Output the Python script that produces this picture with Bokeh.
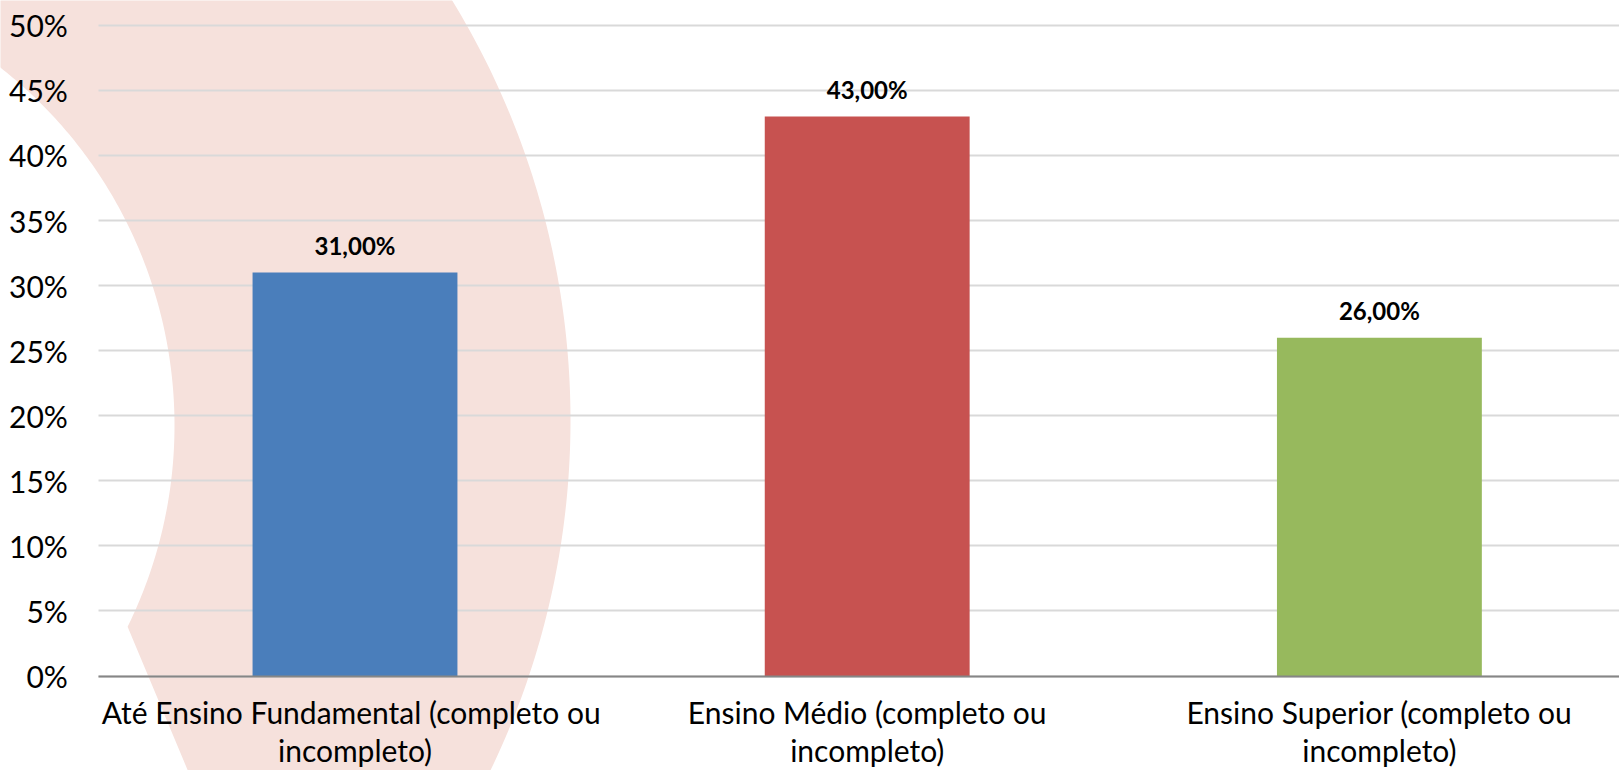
import numpy as np
from bokeh.plotting import figure
from bokeh.models import ColumnDataSource, Range1d, FixedTicker, Grid
from bokeh.core.properties import value
from bokeh.embed import file_html
from bokeh.resources import INLINE

# ---- data ----
categories = [
    "Até Ensino Fundamental  (completo ou\nincompleto)",
    "Ensino Médio (completo ou\nincompleto)",
    "Ensino Superior (completo ou\nincompleto)",
]
values = [0.31, 0.43, 0.26]
value_labels = ["31,00%", "43,00%", "26,00%"]
colors = ["#4A7EBB", "#C75250", "#97B95D"]
y_ticks = [0.0, 0.05, 0.10, 0.15, 0.20, 0.25, 0.30, 0.35, 0.40, 0.45, 0.50]
y_tick_labels = ["0%", "5%", "10%", "15%", "20%", "25%", "30%", "35%", "40%", "45%", "50%"]

FONT = "Lato"
W, H = 1619, 770

# layout geometry (pixels): where category-axis 0 and value 0 sit on the canvas
PX_PER_X, X0_PX = 512.2, 98.4
PX_PER_Y, Y0_PX = 1301.4, 675.5
x_end = (W - X0_PX) / PX_PER_X

xs = [i + 0.5 for i in range(len(categories))]
src = ColumnDataSource(dict(x=xs, top=values, color=colors, label=value_labels))

p = figure(width=W, height=H, output_backend="svg", toolbar_location=None,
           x_range=Range1d(-X0_PX / PX_PER_X, x_end),
           y_range=Range1d(-(H - Y0_PX) / PX_PER_Y, Y0_PX / PX_PER_Y),
           min_border=0)
p.outline_line_color = None
p.background_fill_color = "white"
p.border_fill_color = "white"

def to_dx(px):
    return (np.asarray(px) - X0_PX) / PX_PER_X

def to_dy(py):
    return (Y0_PX - np.asarray(py)) / PX_PER_Y

# ---- decorative pink crescent band (background) ----
in_c, r_in = np.array([-281.0, 425.0]), 455.0
out_c, r_out = np.array([-234.7, 420.0]), 804.7
p1 = np.array([127.3, 626.7])
d = np.array([60.0, 143.3]); d = d / np.linalg.norm(d)

def hit(c, r, inner):
    f = p1 - c
    b = 2 * f.dot(d); cc = f.dot(f) - r * r
    disc = max(b * b - 4 * cc, 0.0)
    ts = [(-b - np.sqrt(disc)) / 2, (-b + np.sqrt(disc)) / 2]
    t = min(ts, key=abs) if inner else max(ts)
    q = p1 + t * d
    return np.arctan2(q[1] - c[1], q[0] - c[0])

th_out = hit(out_c, r_out, False)
th_in = hit(in_c, r_in, True)
a_out = np.linspace(np.radians(-100), th_out, 240)
a_in = np.linspace(th_in, np.radians(-100), 240)
band_px = np.concatenate([out_c[0] + r_out * np.cos(a_out), in_c[0] + r_in * np.cos(a_in)])
band_py = np.concatenate([out_c[1] + r_out * np.sin(a_out), in_c[1] + r_in * np.sin(a_in)])
p.patch(to_dx(band_px), to_dy(band_py), fill_color="#F6E1DC", line_color=None,
        level="image")

# ---- gridlines ----
p.xgrid.visible = False
if "cross_bounds" in Grid.properties():
    p.ygrid.ticker = FixedTicker(ticks=y_ticks)
    p.ygrid.cross_bounds = (0, x_end)
    p.ygrid.grid_line_color = "#D9D9D9"
    p.ygrid.grid_line_width = 2
else:
    p.ygrid.visible = False
    p.segment(x0=[0] * len(y_ticks), x1=[x_end] * len(y_ticks), y0=y_ticks, y1=y_ticks,
              line_color="#D9D9D9", line_width=2, level="underlay")

# ---- bars ----
p.vbar(x="x", top="top", width=0.4, color="color", source=src, line_color=None)
p.text(x="x", y="top", text="label", source=src, text_align="center",
       text_baseline="middle", y_offset=-27, text_font=value(FONT),
       text_font_style="bold", text_font_size="24px", text_color="#000000")

# ---- axes (drawn at fixed positions inside the full-canvas frame) ----
xa = p.xaxis[0]
xa.fixed_location = 0
xa.bounds = (0, x_end)
xa.ticker = FixedTicker(ticks=xs)
xa.major_label_overrides = {x: c for x, c in zip(xs, categories)}
xa.axis_line_color = "#868686"
xa.axis_line_width = 2
xa.major_tick_line_color = None
xa.minor_tick_line_color = None
xa.major_tick_out = 0
xa.major_label_standoff = 18
xa.major_label_text_font = FONT
xa.major_label_text_font_size = "30px"
xa.major_label_text_color = "#000000"
xa.major_label_text_line_height = 1.06

ya = p.yaxis[0]
ya.fixed_location = 0
ya.ticker = FixedTicker(ticks=y_ticks)
ya.major_label_overrides = {t: l for t, l in zip(y_ticks, y_tick_labels)}
ya.axis_line_color = None
ya.major_tick_line_color = None
ya.minor_tick_line_color = None
ya.major_tick_out = 0
ya.major_label_standoff = 31
ya.major_label_text_font = FONT
ya.major_label_text_font_size = "30px"
ya.major_label_text_color = "#000000"

open("out.html", "w").write(file_html(p, INLINE))
